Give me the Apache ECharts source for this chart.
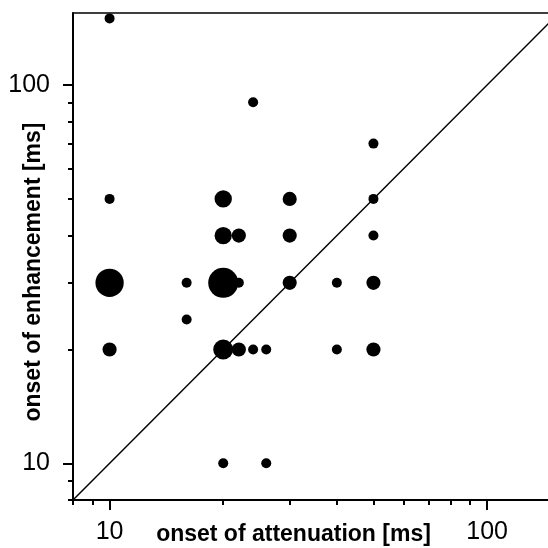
<!DOCTYPE html>
<html>
<head>
<meta charset="utf-8">
<script src="https://cdn.jsdelivr.net/npm/echarts@6/dist/echarts.min.js"></script>
<style>html,body{margin:0;padding:0;background:#fff;}#chart{width:548px;height:548px;}</style>
</head>
<body>
<div id="chart"></div>
<script>
// onset of attenuation [ms] (x), onset of enhancement [ms] (y), number of cells at each point
const attenuation = [10, 10, 10, 10, 24, 16, 16, 20, 20, 22, 22, 20, 20, 22, 24, 26, 20, 26, 30, 30, 30, 40, 40, 50, 50, 50, 50, 50];
const enhancement = [150, 50, 30, 20, 90, 30, 24, 50, 40, 40, 30, 30, 20, 20, 20, 20, 10, 10, 50, 40, 30, 30, 20, 70, 50, 40, 30, 20];
const counts      = [1, 1, 8, 2, 1, 1, 1, 3, 3, 2, 1, 9, 4, 2, 1, 1, 1, 1, 2, 2, 2, 1, 1, 1, 1, 1, 2, 2];
const xMajorTicks = [10, 100];
const xMinorTicks = [8, 9, 20, 30, 40, 50, 60, 70, 80, 90];
const yMajorTicks = [10, 100];
const yMinorTicks = [8, 9, 20, 30, 40, 50, 60, 70, 80, 90];
const identityLine = [8, 160];
const xRange = [8, 145];
const yRange = [8, 155];

const points = attenuation.map((x, i) => [x, enhancement[i], counts[i]]);
const FONT = '"Liberation Sans", Arial, sans-serif';
const onlyMajor = (list) => (v) => {
  const r = Math.round(v);
  return list.indexOf(r) >= 0 && Math.abs(v - r) < 1e-6 * r ? String(r) : '';
};

const chart = echarts.init(document.getElementById('chart'), null, {renderer: 'canvas'});
const baseAxis = (extra) => Object.assign({
  type: 'log', logBase: 10, splitLine: {show: false}, minorTick: {show: false}, minorSplitLine: {show: false},
  nameMoveOverlap: false
}, extra);

chart.setOption({
  animation: false,
  backgroundColor: '#ffffff',
  grid: {left: 73, right: 0, top: 13, bottom: 48, containLabel: false, outerBoundsMode: 'none'},
  xAxis: [
    baseAxis({
      min: xRange[0], max: xRange[1], position: 'bottom',
      axisLine: {show: true, lineStyle: {color: '#000', width: 2}},
      axisTick: {show: true, length: 10, customValues: xMajorTicks, lineStyle: {color: '#000', width: 2}},
      axisLabel: {show: true, customValues: xMajorTicks, margin: 20, color: '#000', fontFamily: FONT, fontSize: 25, formatter: onlyMajor(xMajorTicks)},
      name: 'onset of attenuation [ms]', nameLocation: 'middle', nameGap: 23,
      nameTextStyle: {fontFamily: FONT, fontWeight: 'bold', fontSize: 23, color: '#000', verticalAlign: 'top', padding: [0, 34, 0, 0]}
    }),
    baseAxis({
      min: xRange[0], max: xRange[1], position: 'bottom',
      axisLine: {show: false},
      axisTick: {show: true, length: 5, customValues: xMinorTicks, lineStyle: {color: '#000', width: 2}},
      axisLabel: {show: false}
    }),
    baseAxis({
      min: xRange[0], max: xRange[1], position: 'top',
      axisLine: {show: true, lineStyle: {color: '#000', width: 1.5}},
      axisTick: {show: false}, axisLabel: {show: false}
    })
  ],
  yAxis: [
    baseAxis({
      min: yRange[0], max: yRange[1], position: 'left',
      axisLine: {show: true, lineStyle: {color: '#000', width: 2}},
      axisTick: {show: true, length: 10, customValues: yMajorTicks, lineStyle: {color: '#000', width: 2}},
      axisLabel: {show: true, customValues: yMajorTicks, margin: 23, color: '#000', fontFamily: FONT, fontSize: 25, formatter: onlyMajor(yMajorTicks)},
      name: 'onset of enhancement [ms]', nameLocation: 'middle', nameGap: 28, nameRotate: 90,
      nameTextStyle: {fontFamily: FONT, fontWeight: 'bold', fontSize: 23, color: '#000', padding: [0, 31, 0, 0]}
    }),
    baseAxis({
      min: yRange[0], max: yRange[1], position: 'left', offset: 0,
      axisLine: {show: false},
      axisTick: {show: true, length: 5, customValues: yMinorTicks, lineStyle: {color: '#000', width: 2}},
      axisLabel: {show: false}
    })
  ],
  series: [
    {
      type: 'line', xAxisIndex: 0, yAxisIndex: 0,
      data: identityLine.map(v => [v, v]),
      symbol: 'none', clip: true, silent: true,
      lineStyle: {color: '#000', width: 1.5}, z: 1
    },
    {
      type: 'scatter', xAxisIndex: 0, yAxisIndex: 0,
      data: points,
      symbol: 'circle',
      symbolSize: v => 10 * Math.sqrt(v[2]),
      itemStyle: {color: '#000', opacity: 1},
      z: 2
    }
  ]
});
</script>
</body>
</html>
